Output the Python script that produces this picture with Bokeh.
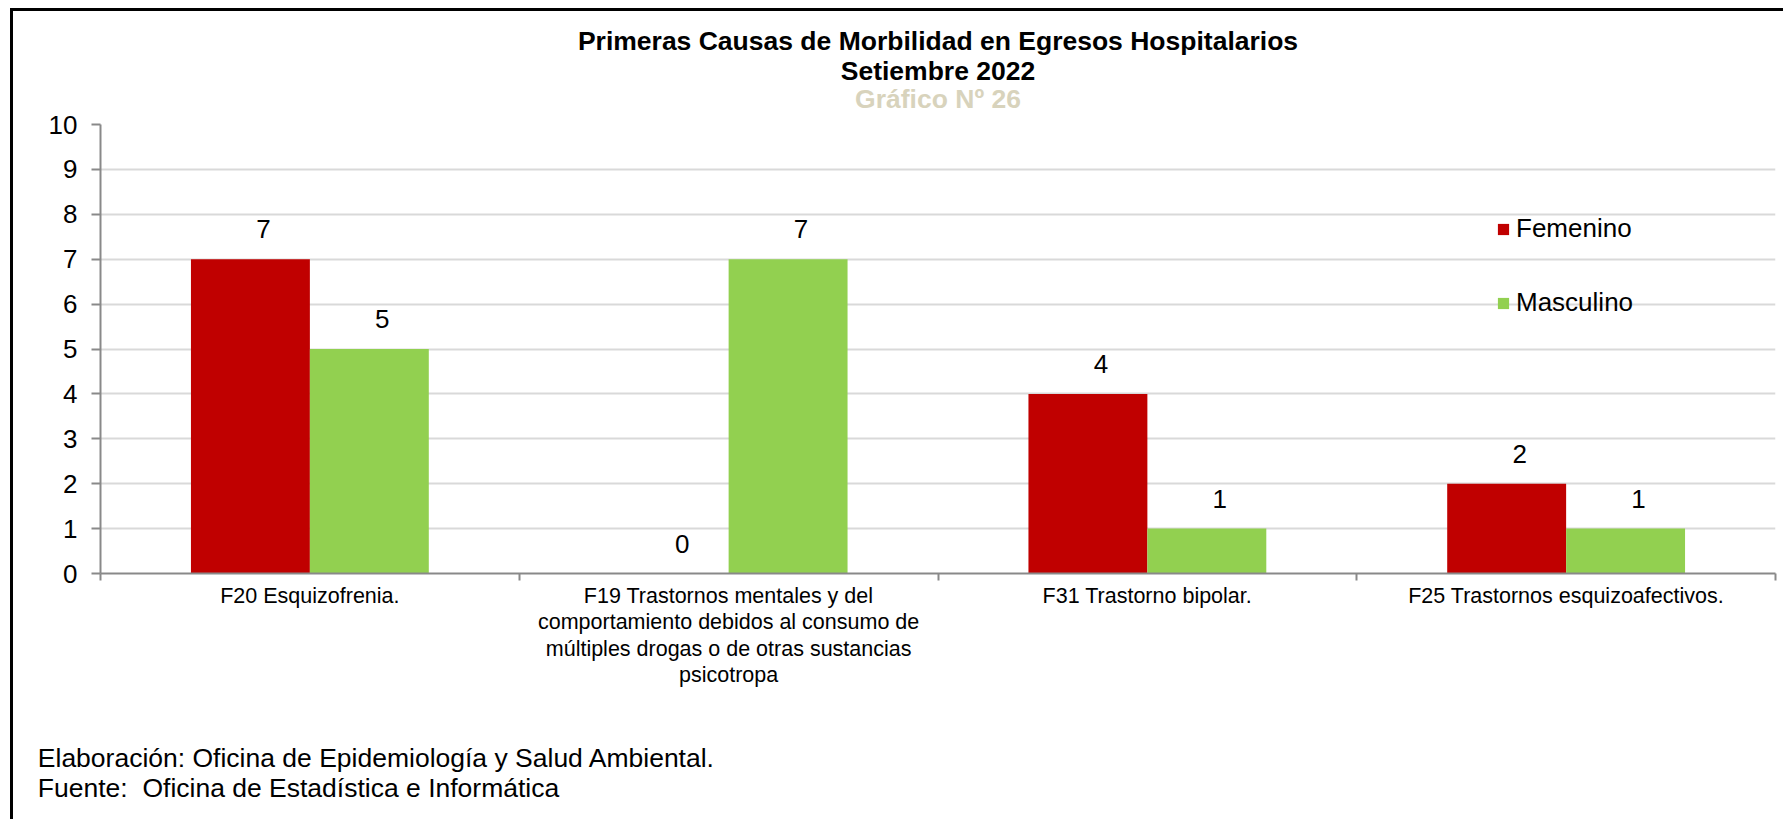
from bokeh.plotting import figure
from bokeh.models import (Range1d, FixedTicker, ColumnDataSource, LabelSet, Label,
                          Legend, LegendItem)
from bokeh.transform import dodge
from bokeh.core.properties import value
from bokeh.embed import file_html
from bokeh.resources import INLINE

# ---------------- data ----------------
categories = [
    "F20 Esquizofrenia.",
    "F19 Trastornos mentales y del\ncomportamiento debidos al consumo de\nmúltiples drogas o de otras sustancias\npsicotropa",
    "F31 Trastorno bipolar.",
    "F25 Trastornos esquizoafectivos.",
]
femenino = [7, 0, 4, 2]
masculino = [5, 7, 1, 1]
series_names = ["Femenino", "Masculino"]
y_ticks = [0, 1, 2, 3, 4, 5, 6, 7, 8, 9, 10]
title_lines = ["Primeras Causas de Morbilidad en Egresos Hospitalarios", "Setiembre 2022", "Gráfico Nº 26"]
footer_lines = ["Elaboración: Oficina de Epidemiología y Salud Ambiental.",
                "Fuente:  Oficina de Estadística e Informática"]

# ---------------- styling ----------------
FONT = "Liberation Sans"
RED = "#C00000"
GREEN = "#92D050"
GRID = "#D9D9D9"
AXIS = "#898989"
BAR_W = 0.284

n = len(categories)
xpos = [i + 0.5 for i in range(n)]
src = ColumnDataSource(dict(x=xpos, fem=femenino, mas=masculino,
                            fem_t=[str(v) for v in femenino],
                            mas_t=[str(v) for v in masculino]))

p = figure(width=1773, height=811, x_range=Range1d(0, n), y_range=Range1d(0, 10),
           output_backend="svg", toolbar_location=None,
           min_border_left=87, min_border_right=11, min_border_top=113, min_border_bottom=249)
p.title.visible = False
p.outline_line_color = None
p.background_fill_color = "white"
p.border_fill_color = "white"
p.styles = {"margin-left": "10px", "margin-top": "8px",
            "border-left": "3px solid black", "border-top": "3px solid black"}

r_f = p.vbar(x=dodge("x", -BAR_W / 2), top="fem", width=BAR_W, source=src,
             fill_color=RED, line_color=None)
r_m = p.vbar(x=dodge("x", BAR_W / 2), top="mas", width=BAR_W, source=src,
             fill_color=GREEN, line_color=None)

# data labels
for col, txt, off in (("fem", "fem_t", -BAR_W / 2), ("mas", "mas_t", BAR_W / 2)):
    p.add_layout(LabelSet(x=dodge("x", off), y=col, text=txt, source=src,
                          x_offset=13, y_offset=30, text_align="center",
                          text_baseline="middle", text_font=value(FONT),
                          text_font_size="26px", text_color="black"))

# y axis
p.yaxis.ticker = FixedTicker(ticks=y_ticks)
p.yaxis.axis_line_color = AXIS
p.yaxis.axis_line_width = 2
p.yaxis.major_tick_line_color = AXIS
p.yaxis.major_tick_line_width = 2
p.yaxis.major_tick_out = 9
p.yaxis.major_tick_in = 0
p.yaxis.minor_tick_line_color = None
p.yaxis.major_label_text_font = FONT
p.yaxis.major_label_text_font_size = "26px"
p.yaxis.major_label_text_color = "black"
p.yaxis.major_label_standoff = 14

# x axis
p.xaxis.ticker = FixedTicker(ticks=xpos, minor_ticks=list(range(n + 1)))
p.xaxis.major_label_overrides = {float(x): c for x, c in zip(xpos, categories)}
p.xaxis.axis_line_color = AXIS
p.xaxis.axis_line_width = 2
p.xaxis.major_tick_line_color = None
p.xaxis.major_tick_out = 0
p.xaxis.major_tick_in = 0
p.xaxis.minor_tick_line_color = AXIS
p.xaxis.minor_tick_line_width = 2
p.xaxis.minor_tick_out = 7
p.xaxis.minor_tick_in = 0
p.xaxis.major_label_text_font = FONT
p.xaxis.major_label_text_font_size = "21.5px"
p.xaxis.major_label_text_line_height = 1.11
p.xaxis.major_label_text_color = "black"
p.xaxis.major_label_standoff = 3

p.xgrid.grid_line_color = None
p.ygrid.grid_line_color = GRID
p.ygrid.grid_line_width = 2

# legend
legend = Legend(items=[LegendItem(label=series_names[0], renderers=[r_f]),
                       LegendItem(label=series_names[1], renderers=[r_m])],
                location=(1396, 255), orientation="vertical",
                glyph_width=14, glyph_height=14, label_standoff=6, spacing=43,
                padding=0, margin=0, border_line_alpha=0, background_fill_alpha=0,
                label_text_font=FONT, label_text_font_size="26px",
                label_text_color="black", label_height=20)
p.add_layout(legend)

# titles (positions in data space of the plot, placed in the side panels)
tcol = ["black", "black", "#D8D3BC"]
tys = [11.867, 11.198, 10.568]
for t, yy, c in zip(title_lines, tys, tcol):
    p.add_layout(Label(x=2.0, y=yy, text=t, text_align="center", text_baseline="alphabetic",
                       text_font=FONT, text_font_style="bold", text_font_size="26.5px",
                       text_color=c), "above")

for t, yy in zip(footer_lines, [-4.114, -4.785]):
    p.add_layout(Label(x=-0.1497, y=yy, text=t.replace("  ", " \u00a0"), text_align="left",
                       text_baseline="alphabetic", text_font=FONT, text_font_size="26.5px",
                       text_color="black"), "below")

open("out.html", "w").write(file_html(p, INLINE))
